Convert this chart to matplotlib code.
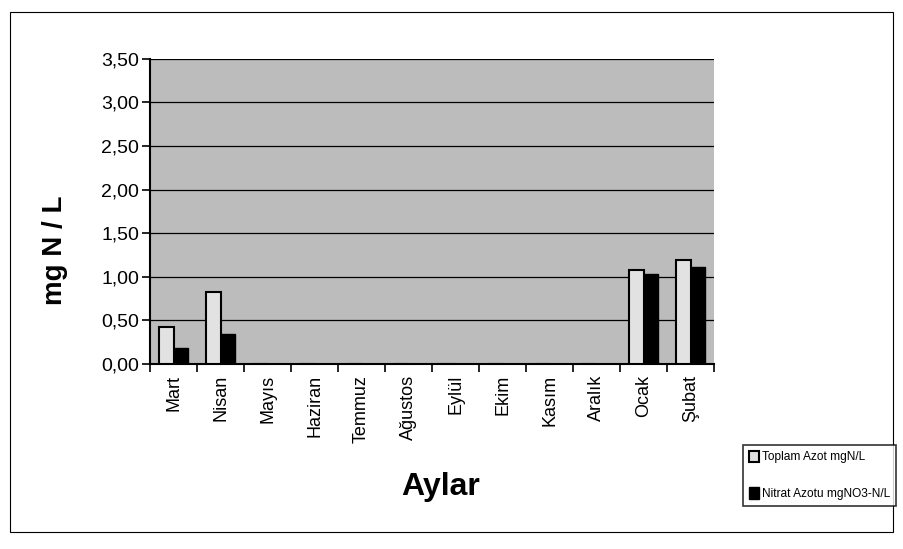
import numpy as np
import matplotlib
matplotlib.use("Agg")
import matplotlib.pyplot as plt
from matplotlib.patches import Rectangle

plt.rcParams['font.family'] = ['Liberation Sans', 'DejaVu Sans']

aylar = ['Mart', 'Nisan', 'Mayıs', 'Haziran', 'Temmuz', 'Ağustos',
         'Eylül', 'Ekim', 'Kasım', 'Aralık', 'Ocak', 'Şubat']
toplam = [0.42, 0.82, 0, 0, 0, 0, 0, 0, 0, 0, 1.08, 1.19]
nitrat = [0.18, 0.34, 0, 0, 0, 0, 0, 0, 0, 0, 1.03, 1.11]
yticks = [0, 0.5, 1.0, 1.5, 2.0, 2.5, 3.0, 3.5]
ytick_labels = ['0,00', '0,50', '1,00', '1,50', '2,00', '2,50', '3,00', '3,50']

fig = plt.figure(figsize=(9.04, 5.49), dpi=100)
ax = fig.add_axes([0.166, 0.337, 0.624, 0.556])

# chart border
fig.patches.append(Rectangle((0.011, 0.031), 0.977, 0.947, transform=fig.transFigure,
                             fill=False, edgecolor='black', linewidth=0.8))

x = np.arange(len(aylar))
w = 0.31
ax.set_facecolor('#bcbcbc')
ax.bar(x - w / 2, toplam, w, color='#e2e2e2', edgecolor='black', linewidth=1.5,
       label='Toplam Azot mgN/L', zorder=3)
ax.bar(x + w / 2, nitrat, w, color='black', edgecolor='black', linewidth=1.0,
       label='Nitrat Azotu mgNO3-N/L', zorder=3)

ax.set_xlim(-0.5, len(aylar) - 0.5)
ax.set_ylim(0, 3.5)
ax.set_yticks(yticks)
ax.set_yticklabels(ytick_labels, fontsize=14)
ax.yaxis.grid(True, color='black', linewidth=0.9, zorder=1)
ax.set_axisbelow(True)

ax.set_xticks(x)
ax.set_xticklabels(aylar, rotation=90, fontsize=13)
ax.tick_params(axis='x', length=0, pad=8)
ax.set_xticks(np.arange(-0.5, len(aylar)), minor=True)
ax.tick_params(axis='x', which='minor', length=6, width=1.2, direction='out')
ax.tick_params(axis='y', length=6, width=1.2, direction='out', pad=2)

for s in ['top', 'right']:
    ax.spines[s].set_visible(False)
ax.spines['left'].set_linewidth(1.5)
ax.spines['bottom'].set_linewidth(1.5)

fig.text(0.061, 0.545, 'mg N / L', fontsize=20, fontweight='bold', rotation=90,
         ha='center', va='center')
fig.text(0.487, 0.113, 'Aylar', fontsize=23, fontweight='bold', ha='center', va='center')

leg = fig.legend(loc='upper left', bbox_to_anchor=(0.822, 0.19), fontsize=8.6,
                 frameon=True, fancybox=False, edgecolor='black', handlelength=0.8,
                 handleheight=1.1, handletextpad=0.3, borderpad=0.5, labelspacing=2.0,
                 borderaxespad=0)
leg.get_frame().set_linewidth(1.2)

fig.savefig('out.png', dpi=100)
